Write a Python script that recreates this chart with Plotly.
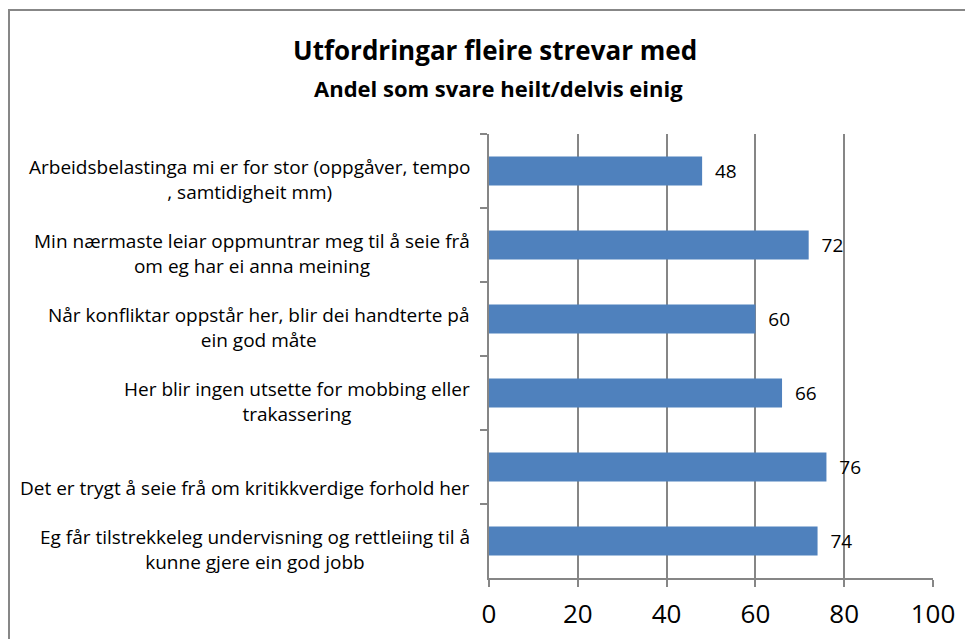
"""Horisontalt stolpediagram: utfordringar fleire strevar med."""

import plotly.graph_objects as go

TITLE = "Utfordringar fleire strevar med"
SUBTITLE = "Andel som svare heilt/delvis einig"

CATEGORIES = [
    "Arbeidsbelastinga mi er for stor (oppgåver, tempo<br>, samtidigheit mm)",
    "Min nærmaste leiar oppmuntrar meg til å seie frå<br>om eg har ei anna meining",
    "Når konfliktar oppstår her, blir dei handterte på<br>ein god måte",
    "Her blir ingen utsette for mobbing eller<br>trakassering",
    "\u00a0<br>Det er trygt å seie frå om kritikkverdige forhold her",
    "Eg får tilstrekkeleg undervisning og rettleiing til å<br>kunne gjere ein god jobb",
]
VALUES = [48, 72, 60, 66, 76, 74]
X_TICKS = [0, 20, 40, 60, 80, 100]

FONT = "Open Sans, Liberation Sans, sans-serif"
BAR_COLOR = "#4F81BD"
GRID_COLOR = "#868686"

# the page body has an 8px margin, so the figure starts at (8, 8) in the window
OFFSET = 8
W, H = 973, 639
# plot area in window pixels
PLOT_X0, PLOT_X1, PLOT_Y0, PLOT_Y1 = 489, 933, 134, 578
LEFT = PLOT_X0 - OFFSET
TOP = PLOT_Y0 - OFFSET
RIGHT = W - (PLOT_X1 - OFFSET)
BOTTOM = H - (PLOT_Y1 - OFFSET)
PLOT_W = PLOT_X1 - PLOT_X0
PLOT_H = PLOT_Y1 - PLOT_Y0


def px_to_paper_x(px: float) -> float:
    return (px - PLOT_X0) / PLOT_W


def px_to_paper_y(py: float) -> float:
    return (PLOT_Y1 - py) / PLOT_H


keys = [str(i) for i in range(len(CATEGORIES))]

fig = go.Figure()
fig.add_trace(
    go.Bar(
        x=VALUES,
        y=keys,
        orientation="h",
        marker={"color": BAR_COLOR, "line": {"width": 0}},
        width=0.39,
        text=VALUES,
        texttemplate="\u00a0\u00a0%{x}",
        textposition="outside",
        textfont={"family": FONT, "size": 19, "color": "#000000"},
        cliponaxis=False,
        hoverinfo="skip",
    )
)

# category labels, centred lines, right-anchored next to the axis
for key, label in zip(keys, CATEGORIES):
    fig.add_annotation(
        x=px_to_paper_x(472),
        xref="paper",
        y=key,
        yref="y",
        text=label,
        xanchor="right",
        yanchor="middle",
        align="center",
        showarrow=False,
        yshift=-8,
        font={"family": FONT, "size": 19, "color": "#000000"},
    )

fig.add_annotation(
    x=px_to_paper_x(495),
    xref="paper",
    y=px_to_paper_y(50),
    yref="paper",
    text=f"<b>{TITLE}</b>",
    xanchor="center",
    yanchor="middle",
    showarrow=False,
    font={"family": FONT, "size": 26, "color": "#000000"},
)
fig.add_annotation(
    x=px_to_paper_x(498),
    xref="paper",
    y=px_to_paper_y(88),
    yref="paper",
    text=f"<b>{SUBTITLE}</b>",
    xanchor="center",
    yanchor="middle",
    showarrow=False,
    font={"family": FONT, "size": 22, "color": "#000000"},
)

# outer chart frame (extends beyond the visible window)
fig.add_shape(
    type="rect",
    xref="paper",
    yref="paper",
    x0=px_to_paper_x(9),
    x1=px_to_paper_x(1100),
    y0=px_to_paper_y(800),
    y1=px_to_paper_y(10),
    line={"color": "#878787", "width": 2},
    layer="below",
)

fig.update_layout(
    width=W,
    height=H,
    margin={"l": LEFT, "r": RIGHT, "t": TOP, "b": BOTTOM},
    paper_bgcolor="#ffffff",
    plot_bgcolor="#ffffff",
    showlegend=False,
    font={"family": FONT, "color": "#000000"},
    xaxis={
        "range": [0, 100],
        "tickvals": X_TICKS,
        "ticks": "outside",
        "ticklen": 7,
        "tickcolor": GRID_COLOR,
        "tickwidth": 1.5,
        "ticklabelstandoff": 5,
        "tickfont": {"family": FONT, "size": 26, "color": "#000000"},
        "showgrid": True,
        "gridcolor": GRID_COLOR,
        "gridwidth": 1.5,
        "showline": True,
        "linecolor": GRID_COLOR,
        "linewidth": 1.5,
        "zeroline": False,
        "fixedrange": True,
    },
    yaxis={
        "type": "category",
        "categoryorder": "array",
        "categoryarray": keys,
        "autorange": "reversed",
        "tickson": "boundaries",
        "ticks": "outside",
        "ticklen": 7,
        "tickcolor": GRID_COLOR,
        "tickwidth": 1.5,
        "showticklabels": False,
        "showgrid": False,
        "showline": True,
        "linecolor": GRID_COLOR,
        "linewidth": 1.5,
        "zeroline": False,
        "fixedrange": True,
    },
)

fig.write_html("out.html")
